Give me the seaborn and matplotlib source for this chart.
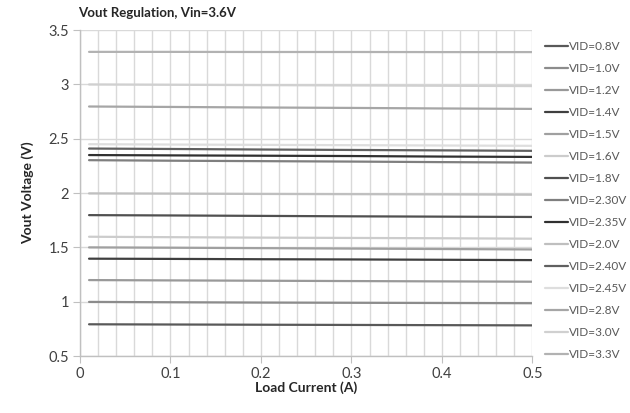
import matplotlib
matplotlib.use("Agg")
import matplotlib.pyplot as plt
import seaborn as sns
import pandas as pd
from matplotlib.ticker import MultipleLocator, FuncFormatter

sns.set_theme(style="white")
plt.rcParams['font.family'] = ['Lato', 'DejaVu Sans']

# ---- data ----
load_current = [0.01, 0.1, 0.2, 0.3, 0.4, 0.5]
labels = ["VID=0.8V", "VID=1.0V", "VID=1.2V", "VID=1.4V", "VID=1.5V", "VID=1.6V",
          "VID=1.8V", "VID=2.30V", "VID=2.35V", "VID=2.0V", "VID=2.40V", "VID=2.45V",
          "VID=2.8V", "VID=3.0V", "VID=3.3V"]
vout = {
    "VID=0.8V":  [0.792, 0.790, 0.788, 0.786, 0.784, 0.782],
    "VID=1.0V":  [0.998, 0.995, 0.992, 0.990, 0.988, 0.986],
    "VID=1.2V":  [1.199, 1.196, 1.193, 1.190, 1.187, 1.184],
    "VID=1.4V":  [1.396, 1.394, 1.391, 1.389, 1.386, 1.383],
    "VID=1.5V":  [1.500, 1.497, 1.493, 1.489, 1.485, 1.481],
    "VID=1.6V":  [1.598, 1.594, 1.590, 1.587, 1.584, 1.580],
    "VID=1.8V":  [1.797, 1.794, 1.790, 1.786, 1.783, 1.780],
    "VID=2.30V": [2.303, 2.298, 2.294, 2.290, 2.285, 2.281],
    "VID=2.35V": [2.350, 2.347, 2.344, 2.341, 2.336, 2.333],
    "VID=2.0V":  [1.997, 1.995, 1.992, 1.990, 1.988, 1.985],
    "VID=2.40V": [2.410, 2.406, 2.401, 2.397, 2.393, 2.389],
    "VID=2.45V": [2.450, 2.447, 2.444, 2.441, 2.438, 2.435],
    "VID=2.8V":  [2.797, 2.793, 2.788, 2.784, 2.779, 2.775],
    "VID=3.0V":  [3.000, 2.997, 2.994, 2.991, 2.988, 2.985],
    "VID=3.3V":  [3.300, 3.300, 3.299, 3.299, 3.298, 3.298],
}
colors = ["#595959", "#8c8c8c", "#999999", "#3f3f3f", "#a0a0a0", "#cccccc",
          "#505050", "#7f7f7f", "#303030", "#bfbfbf", "#606060", "#dedede",
          "#a6a6a6", "#d0d0d0", "#b2b2b2"]

rows = []
for lab in labels:
    for x, y in zip(load_current, vout[lab]):
        rows.append({"Load": x, "Vout": y, "Series": lab})
df = pd.DataFrame(rows)

fig = plt.figure(figsize=(6.3, 4.13), dpi=100)
ax = fig.add_axes([0.127, 0.138, 0.718, 0.789])

sns.lineplot(data=df, x="Load", y="Vout", hue="Series", hue_order=labels,
             palette=dict(zip(labels, colors)), linewidth=1.6, ax=ax, legend=True,
             zorder=3)

ax.set_xlim(0, 0.5)
ax.set_ylim(0.5, 3.5)
ax.xaxis.set_major_locator(MultipleLocator(0.1))
ax.xaxis.set_minor_locator(MultipleLocator(0.02))
ax.yaxis.set_major_locator(MultipleLocator(0.5))
fmt = FuncFormatter(lambda v, p: "%g" % round(v, 3))
ax.xaxis.set_major_formatter(fmt)
ax.yaxis.set_major_formatter(fmt)

ax.grid(True, which="both", axis="x", color="#d9d9d9", linewidth=1.0, zorder=0)
ax.grid(True, which="major", axis="y", color="#d9d9d9", linewidth=1.0, zorder=0)
ax.set_axisbelow(True)

for s in ["top", "right"]:
    ax.spines[s].set_visible(False)
for s in ["left", "bottom"]:
    ax.spines[s].set_color("#c0c0c0")
    ax.spines[s].set_linewidth(1.0)

ax.tick_params(axis="both", which="major", direction="out", length=5, width=0.8,
               color="#c0c0c0", labelsize=10.5, labelcolor="#404040", pad=3, bottom=True, left=True)
ax.tick_params(axis="x", which="minor", length=0)

ax.set_xlabel("Load Current (A)", fontsize=10, fontweight="bold", color="#262626", labelpad=0)
ax.set_ylabel("Vout Voltage (V)", fontsize=10, fontweight="bold", color="#262626", labelpad=10)
fig.text(0.124, 0.953, "Vout Regulation, Vin=3.6V", fontsize=9.5, fontweight="bold",
         color="#262626", ha="left", va="bottom")

leg = ax.get_legend()
handles = leg.legend_handles
leg.remove()
ax.legend(handles, labels, loc="upper left", bbox_to_anchor=(1.01, 0.992), frameon=False,
          fontsize=8.5, labelcolor="#595959", handlelength=1.9, handletextpad=0.1,
          labelspacing=0.93, borderaxespad=0.3)

fig.savefig("out.png", dpi=100)
